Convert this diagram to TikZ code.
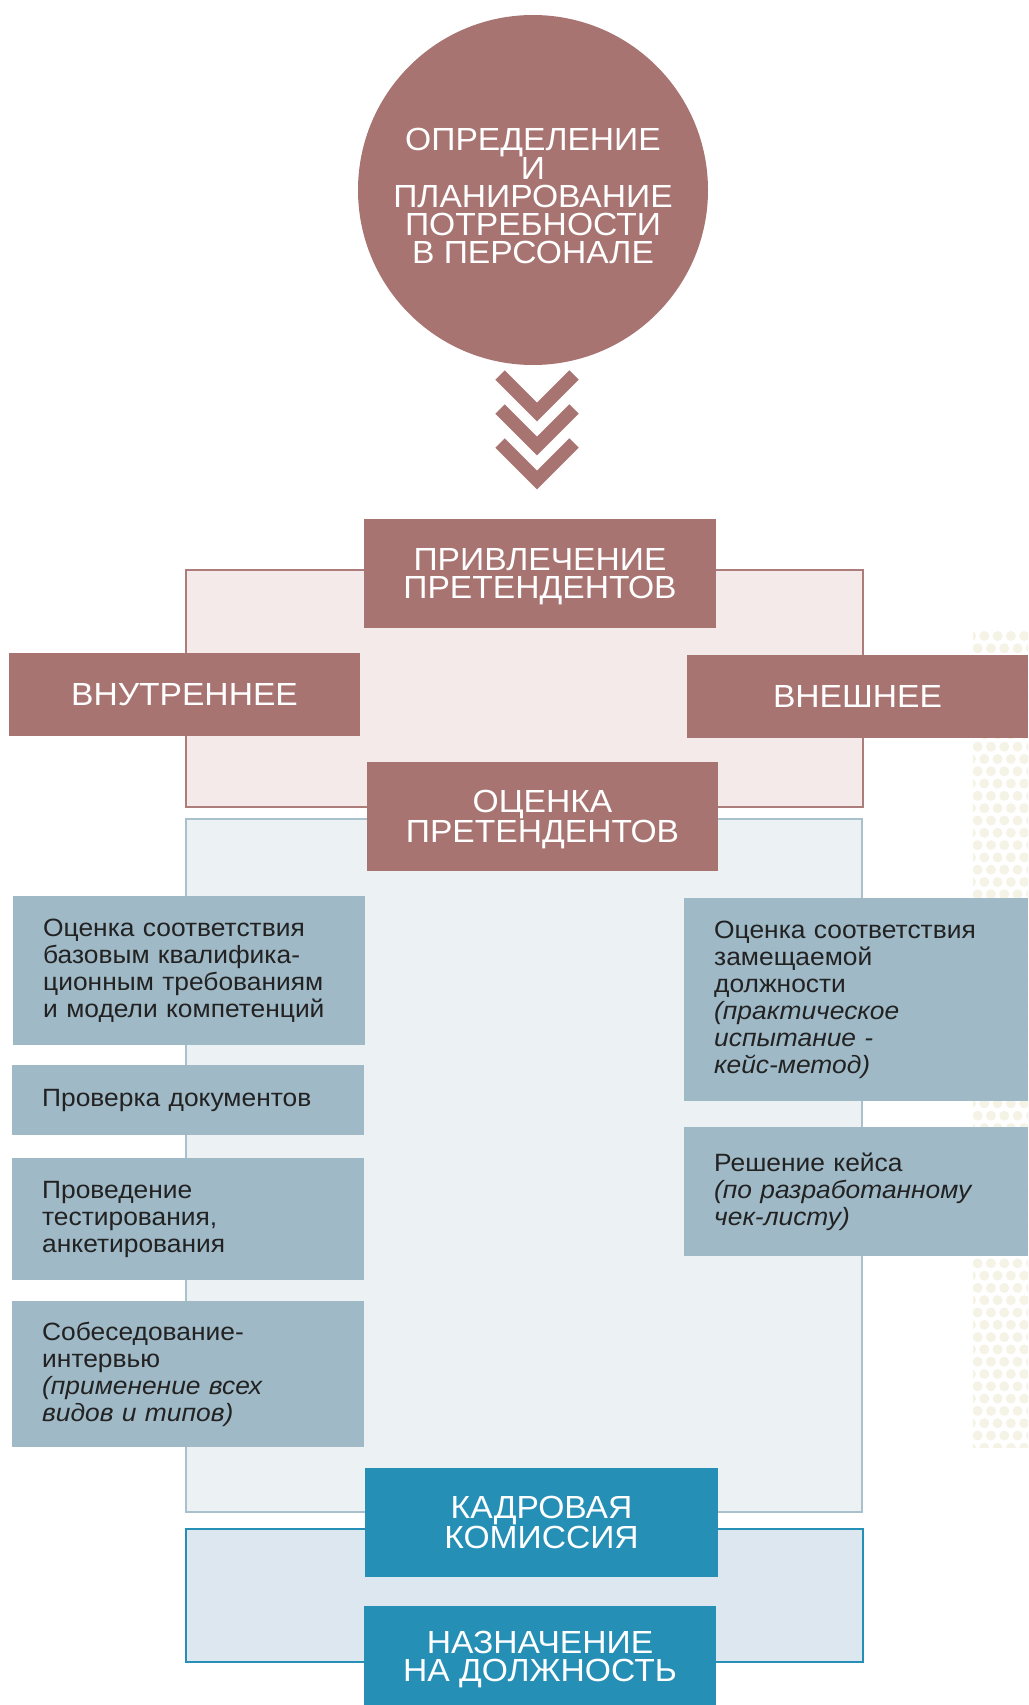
\documentclass[tikz,border=0pt]{standalone}
\usepackage{fontspec}
\setmainfont{Liberation Sans}
\newfontfamily\headfamily[FakeStretch=1.05]{Liberation Sans}
\newfontfamily\stepfamily[WordSpace=1.55, FakeStretch=1.055]{Liberation Sans}
\usetikzlibrary{positioning}

\definecolor{mauve}{HTML}{A87471}
\definecolor{pinkbg}{HTML}{F4EAE9}
\definecolor{pinkline}{HTML}{AD7D7B}
\definecolor{greyblue}{HTML}{9FB9C6}
\definecolor{bluebg}{HTML}{ECF1F4}
\definecolor{blueline}{HTML}{A9C1CC}
\definecolor{commteal}{HTML}{258FB6}
\definecolor{tealbg}{HTML}{DCE7EF}
\definecolor{dotcol}{HTML}{F5F2E6}
\definecolor{itemtext}{HTML}{222222}

\begin{document}
\begin{tikzpicture}[x=1pt, y=-1pt,
				header/.style={fill=mauve, text=white, inner sep=0pt, align=center, text depth=0pt, font=\headfamily\fontsize{32}{28}\selectfont},
				commbox/.style={header, fill=commteal},
				stepitem/.style={fill=greyblue, text=itemtext, anchor=west, inner xsep=30pt, inner ysep=0pt, align=left, font=\stepfamily\fontsize{25}{27}\selectfont},
				frame/.style={line width=2pt}]
				\useasboundingbox (0,0) rectangle (1028,1705);
				
				\begin{scope}
					\clip (973,631) rectangle (1028,1447);
					\foreach \r in {0,...,66}
						\foreach \c in {0,...,5}
							\fill[dotcol] ({971+\c*13.3+mod(\r,2)*6.65}, {636+\r*12.3}) circle (5);
				\end{scope}
				
				\draw[frame, fill=pinkbg, draw=pinkline] (186,570) rectangle (863,807);
				\draw[frame, fill=bluebg, draw=blueline, line width=2.5pt] (186,819) rectangle (862,1512);
				\draw[frame, fill=tealbg, draw=commteal] (186,1529) rectangle (863,1662);
				
				\node[header, circle, minimum size=350pt, text height=147pt](need) at (533, 190) {ОПРЕДЕЛЕНИЕ\\И\\ПЛАНИРОВАНИЕ\\ПОТРЕБНОСТИ\\В ПЕРСОНАЛЕ};
				
				\foreach \dy in {0, 34, 68}
					\draw[mauve, line width=13.4pt, line cap=butt, line join=miter] (500, 375+\dy) -- (537, 412+\dy) -- (574, 375+\dy);
				
				\node[header, minimum width=352pt, minimum height=109pt](attract) at (540, 573.5) {ПРИВЛЕЧЕНИЕ\\ПРЕТЕНДЕНТОВ};
				\node[header, minimum width=351pt, minimum height=83pt](internal) at (184.5, 694.5) {ВНУТРЕННЕЕ};
				\node[header, minimum width=341pt, minimum height=83pt](external) at (857.5, 696.5) {ВНЕШНЕЕ};
				\node[header, minimum width=351pt, minimum height=109pt](assess) at (542.5, 816.5) {ОЦЕНКА\\ПРЕТЕНДЕНТОВ};
				
				\node[stepitem, text width=292pt, minimum height=149pt](qualif) at (13, 970.5) {Оценка соответствия\\базовым квалифика-\\ционным требованиям\\и модели компетенций};
				\node[stepitem, text width=292pt, minimum height=70pt](docs) at (12, 1100) {Проверка документов};
				\node[stepitem, text width=292pt, minimum height=122pt](tests) at (12, 1219) {Проведение\\тестирования,\\анкетирования};
				\node[stepitem, text width=292pt, minimum height=146pt](interview) at (12, 1374) {Собеседование-\\интервью\\{\itshape(применение всех\\видов и типов)}};
				
				\node[stepitem, text width=284pt, minimum height=203pt](position) at (684, 999.5) {Оценка соответствия\\замещаемой\\должности\\{\itshape(практическое\\испытание -\\кейс-метод)}};
				\node[stepitem, text width=284pt, minimum height=129pt](casework) at (684, 1191.5) {Решение кейса\\{\itshape(по разработанному\\чек-листу)}};
				
				\node[commbox, minimum width=353pt, minimum height=109pt](board) at (541.5, 1522.5) {КАДРОВАЯ\\КОМИССИЯ};
				\node[commbox, minimum width=352pt, minimum height=101pt](appoint) at (540, 1656) {НАЗНАЧЕНИЕ\\НА ДОЛЖНОСТЬ};
			\end{tikzpicture}
\end{document}
